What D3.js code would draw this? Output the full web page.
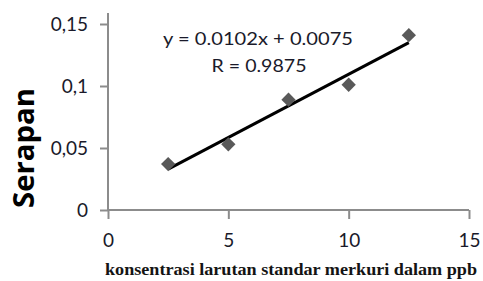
<!DOCTYPE html>
<head>
  <meta charset="utf-8">
  <script src="https://unpkg.com/d3@7/dist/d3.min.js"></script>
  <style>
    body { margin:0; background:#fff; }
  </style>
</head>
<body>
  <svg width="483" height="281"></svg>
  <script>
    // data
    var konsentrasi = [2.5, 5, 7.5, 10, 12.5];
    var serapan = [0.037, 0.053, 0.089, 0.101, 0.141];
    var xTicks = [0, 5, 10, 15];
    var yTicks = [0, 0.05, 0.1, 0.15];
    var slope = 0.0102, intercept = 0.0075;

    var svg = d3.select("svg");
    var x = d3.scaleLinear().domain([0, 15]).range([108, 469]);
    var y = d3.scaleLinear().domain([0, 0.15]).range([210, 24]);
    var axisColor = "#8c8c8c";

    // y axis
    var ya = svg.append("g").attr("transform", "translate(108,0)")
      .call(d3.axisLeft(y).tickValues(yTicks).tickSize(8).tickPadding(12)
        .tickFormat(function (d) { return String(d).replace(".", ","); }));
    ya.select(".domain").attr("d", "M0,13V210");
    // x axis
    var xa = svg.append("g").attr("transform", "translate(0,210)")
      .call(d3.axisBottom(x).tickValues(xTicks).tickSize(9).tickPadding(15));
    xa.select(".domain").attr("d", "M108,0H469");
    svg.selectAll(".domain, .tick line").attr("stroke", axisColor).attr("stroke-width", 2);
    svg.selectAll(".tick text")
      .attr("font-family", "Lato, 'Open Sans', sans-serif")
      .attr("font-size", 19).attr("fill", "#1a1a2a");

    // trendline
    svg.append("line")
      .attr("x1", x(2.5)).attr("y1", y(slope * 2.5 + intercept))
      .attr("x2", x(12.5)).attr("y2", y(slope * 12.5 + intercept))
      .attr("stroke", "#000").attr("stroke-width", 3);

    // points
    svg.selectAll("path.pt")
      .data(konsentrasi)
      .enter().append("path")
      .attr("class", "pt")
      .attr("d", d3.symbol().type(d3.symbolDiamond2).size(130))
      .attr("transform", function (d, i) { return "translate(" + x(d) + "," + y(serapan[i]) + ")"; })
      .attr("fill", "#595959");

    // equation
    svg.append("text").attr("x", 258).attr("y", 45).attr("text-anchor", "middle")
      .attr("font-family", "Lato, sans-serif").attr("font-size", 18).attr("fill", "#1a1a2a")
      .attr("textLength", 190).attr("lengthAdjust", "spacingAndGlyphs")
      .text("y = 0.0102x + 0.0075");
    svg.append("text").attr("x", 259).attr("y", 72).attr("text-anchor", "middle")
      .attr("font-family", "Lato, sans-serif").attr("font-size", 18).attr("fill", "#1a1a2a")
      .attr("textLength", 95).attr("lengthAdjust", "spacingAndGlyphs")
      .text("R = 0.9875");

    // axis titles
    svg.append("text").attr("transform", "translate(34,148) rotate(-90)")
      .attr("text-anchor", "middle")
      .attr("font-family", "'Open Sans', sans-serif").attr("font-weight", "bold")
      .attr("font-size", 28).attr("fill", "#000")
      .attr("textLength", 120).attr("lengthAdjust", "spacingAndGlyphs")
      .text("Serapan");
    svg.append("text").attr("x", 291).attr("y", 275).attr("text-anchor", "middle")
      .attr("font-family", "'Liberation Serif', serif").attr("font-weight", "bold")
      .attr("font-size", 16).attr("fill", "#141414")
      .attr("textLength", 372).attr("lengthAdjust", "spacingAndGlyphs")
      .text("konsentrasi larutan standar merkuri dalam ppb");
  </script>
</body>
